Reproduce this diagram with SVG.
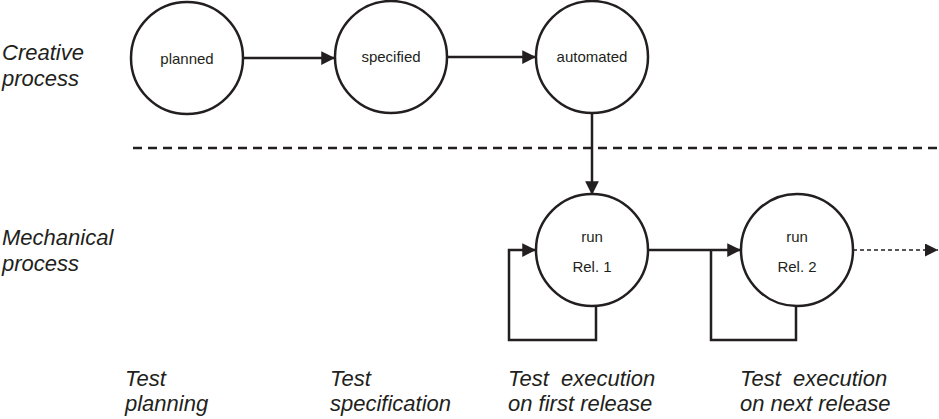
<svg xmlns="http://www.w3.org/2000/svg" width="939" height="419" viewBox="0 0 939 419">
<style>
.node circle{fill:#fff;stroke:#231f20;stroke-width:2.5}
.nt{font-family:"Liberation Sans",Arial,sans-serif;font-size:15px;fill:#231f20;text-anchor:middle}
.lab{font-family:"Liberation Sans",Arial,sans-serif;font-size:22px;font-style:italic;fill:#231f20;white-space:pre}
.c{fill:none;stroke:#231f20;stroke-width:2.5}
</style>
<defs>
<marker id="ah" viewBox="0 0 10 10" refX="10" refY="5" markerWidth="5.5" markerHeight="5.5" markerUnits="strokeWidth" orient="auto">
<path d="M0,0L10,5L0,10z" fill="#231f20"/>
</marker>
<marker id="ah2" viewBox="0 0 10 10" refX="10" refY="5" markerWidth="10" markerHeight="10" markerUnits="strokeWidth" orient="auto">
<path d="M0,0L10,5L0,10z" fill="#231f20"/>
</marker>
</defs>
<text class="lab" x="2" y="60">Creative</text>
<text class="lab" x="2" y="86">process</text>
<text class="lab" x="2" y="245">Mechanical</text>
<text class="lab" x="2" y="271">process</text>
<text class="lab" x="125" y="386">Test</text>
<text class="lab" x="125" y="411">planning</text>
<text class="lab" x="330" y="386">Test</text>
<text class="lab" x="330" y="411">specification</text>
<text class="lab" x="508" y="386">Test  execution</text>
<text class="lab" x="508" y="411">on first release</text>
<text class="lab" x="740" y="386">Test  execution</text>
<text class="lab" x="740" y="411">on next release</text>
<line x1="133" y1="148" x2="939" y2="148" stroke="#231f20" stroke-width="2.5" stroke-dasharray="9,6"/>
<g id="connectors">
<line class="c" x1="243" y1="58" x2="335" y2="58" marker-end="url(#ah)"/>
<line class="c" x1="447" y1="57" x2="536" y2="57" marker-end="url(#ah)"/>
<line class="c" x1="592" y1="114" x2="592" y2="195" marker-end="url(#ah)"/>
<polyline class="c" points="596,306 596,340 509,340 509,250 536,250" marker-end="url(#ah)"/>
<line class="c" x1="648" y1="250" x2="741" y2="250" marker-end="url(#ah)"/>
<polyline class="c" points="796,306 796,340 711,340 711,250"/>
<line x1="853" y1="250" x2="938" y2="250" stroke="#231f20" stroke-width="1.3" stroke-dasharray="4,3" marker-end="url(#ah2)"/>
</g>
<g id="planned" class="node"><circle cx="187" cy="58" r="56"/><text class="nt" x="187" y="64">planned</text></g>
<g id="specified" class="node"><circle cx="391" cy="57" r="56"/><text class="nt" x="391" y="62">specified</text></g>
<g id="automated" class="node"><circle cx="592" cy="57" r="56"/><text class="nt" x="592" y="62">automated</text></g>
<g id="run1" class="node"><circle cx="592" cy="250" r="56"/><text class="nt" x="592" y="242">run</text><text class="nt" x="592" y="272">Rel. 1</text></g>
<g id="run2" class="node"><circle cx="797" cy="250" r="56"/><text class="nt" x="797" y="242">run</text><text class="nt" x="797" y="272">Rel. 2</text></g>
</svg>
